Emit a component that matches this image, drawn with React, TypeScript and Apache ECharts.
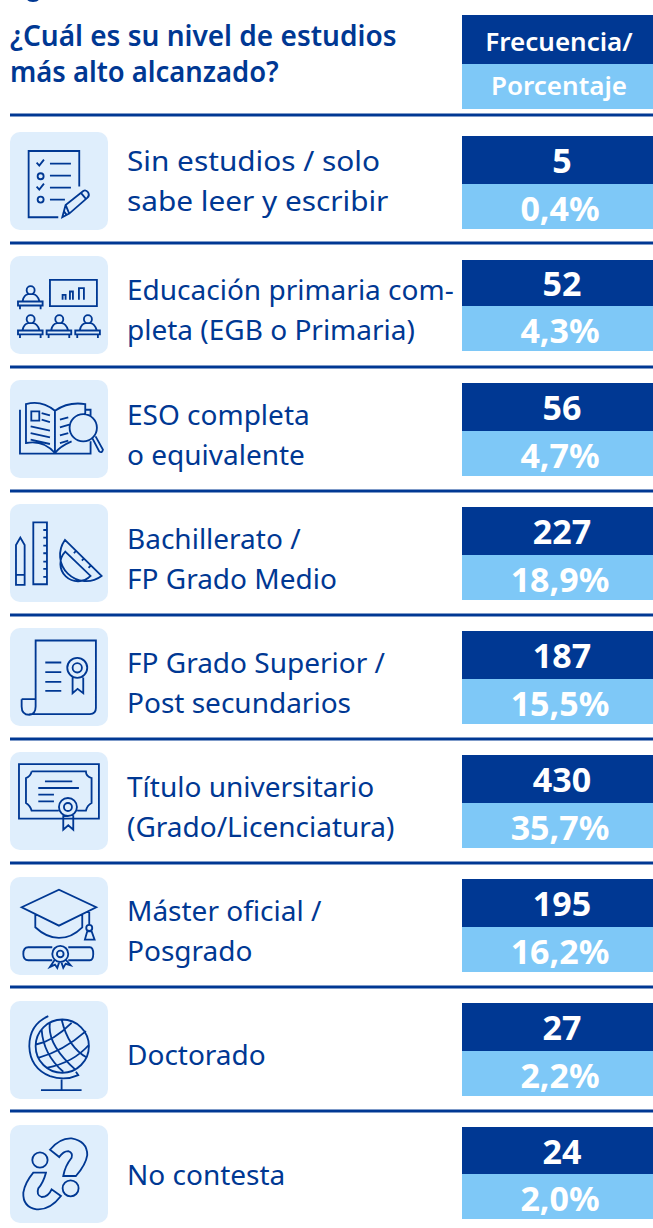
import React, { useEffect, useRef } from "react";
import * as echarts from "echarts";

const title = ["¿Cuál es su nivel de estudios", "más alto alcanzado?"];
const headerTop = "Frecuencia/";
const headerBottom = "Porcentaje";
const labels: string[][] = [
  ["Sin estudios / solo", "sabe leer y escribir"],
  ["Educación primaria com-", "pleta (EGB o Primaria)"],
  ["ESO completa", "o equivalente"],
  ["Bachillerato /", "FP Grado Medio"],
  ["FP Grado Superior /", "Post secundarios"],
  ["Título universitario", "(Grado/Licenciatura)"],
  ["Máster oficial /", "Posgrado"],
  ["Doctorado"],
  ["No contesta"],
];
const frequencies = ["5", "52", "56", "227", "187", "430", "195", "27", "24"];
const percentages = ["0,4%", "4,3%", "4,7%", "18,9%", "15,5%", "35,7%", "16,2%", "2,2%", "2,0%"];

// layout
const DARK = "#003893";
const LIGHT = "#7EC8F7";
const PALE = "#DFEEFC";
const FONT = "'Noto Sans'";
const ruleY = [115, 243, 367, 491, 615, 739, 863, 987, 1111];
const cellTop = [136, 260, 383, 507, 631, 755, 879, 1003, 1127];
const cellMid = [184, 306, 431, 555, 679, 803, 927, 1051, 1174];
const cellBottom = [229, 351, 476, 600, 724, 848, 972, 1096, 1219];
const boxTop = [132, 256, 380, 504, 628, 752, 877, 1001, 1125];
const lineY = [
  [160, 200], [289, 329], [414, 454], [538, 578], [662, 702],
  [786, 826], [910, 950], [1054], [1174],
];
const lineStretch = [1.063, 1, 1, 1, 1, 1, 1, 1, 1];
const titleStretch = [1, 0.978];
const iconOriginY = [125, 125, 125, 495, 495, 495, 868, 868, 868];

const c = (x: number, y: number, r: number) =>
  `M${x - r},${y}a${r},${r} 0 1,0 ${2 * r},0a${r},${r} 0 1,0 ${-2 * r},0`;
const person = (dx: number, dy: number) =>
  c(92 + dx, 496 + dy, 12) +
  `M${68 + dx},${528 + dy}Q${72 + dx},${510 + dy} ${85 + dx},${508 + dy}H${100 + dx}Q${112 + dx},${510 + dy} ${118 + dx},${528 + dy}` +
  `M${54 + dx},${530 + dy}H${128 + dx}V${542 + dy}H${54 + dx}Z` +
  `M${60 + dx},${542 + dy}V${553 + dy}M${122 + dx},${542 + dy}V${553 + dy}`;

const iconPaths = [
  "M238,185V78H86V277H175M110,113L118,122L132,104M150,116H213" + c(122, 154, 9) + "M150,152H213M110,185L118,194L132,176M150,188H213" + c(122, 224, 9) +
    "M150,224H195M187,277L197,240L250,198Q258,193 265,203Q270,212 262,219L208,266ZM197,240L208,266M243,204L258,222M191,258L200,270",
  "M150,465H291V544H150ZM188,525V510H197V525M210,525V500H219V525M237,525V490H252V525" + person(0, 0) + person(0, 87) + person(86, 87) + person(172, 87),
  "M78,850V838Q125,825 165,858Q205,830 256,838V868M78,838V955Q130,945 165,985Q180,965 215,950M60,855V987H272V950M165,858V985M256,855H272V874" +
    c(250, 909, 41) + "M278,942L298,980Q306,987 309,975L287,935" +
    "M94,860H118V888H94ZM125,865L150,872M125,885L150,892M92,905L150,918M92,925L150,938M92,945L150,958M180,885L205,878M180,908L208,900M180,932L205,925M180,955L205,948",
  "M48,270V150L61,128L74,150V270ZM48,240H74M100,82H141V268H100ZM130,105H141M130,128H141M130,152H141M130,175H141M130,200H141M130,222H141M130,246H141" +
    "M195,135A78,78 0 0,0 305,243ZM196,170L272,243A52,52 0 0,1 196,170ZM228,168L222,175M252,190L246,197M272,212L266,219",
  "M107,613V437H288V640Q288,658 270,658H88M65,613H107M65,613V635Q65,660 88,660Q107,658 107,635V613M136,503H184M136,532H184M136,561H184M136,588H184" +
    c(232, 519, 30) + c(232, 519, 14) + "M218,548V595L233,582L250,595V548",
  "M57,808H297V972H57ZM95,830H258Q258,845 275,850V925Q262,932 258,948H232M176,948H95Q92,935 78,925V850Q92,845 95,830M135,860H217M115,880H237M115,900H162M115,920H162" +
    c(204, 937, 27) + c(204, 937, 12) + "M190,962V1005L205,992L220,1005V962",
  "M65,118L177,65L289,118L177,173ZM106,140V178Q140,210 177,210Q215,210 247,178V140M268,128V170" + c(268, 180, 9) + "M262,190L255,215H284L275,190Z" +
    "M157,277H85Q70,277 70,258Q70,238 85,238H157M205,238H270Q280,238 280,258Q280,277 270,277H205" + c(181, 258, 24) + c(181, 258, 10) +
    "M165,275L150,297L165,290L172,300L178,282M197,275L212,292L197,288L190,300L184,282",
  c(187, 535, 80) + "M108,530Q160,520 215,465M115,570Q190,550 258,490M140,600Q220,585 268,530M150,465Q140,530 228,607M125,485Q130,560 190,612M185,455Q205,540 262,570" +
    "M145,445Q88,470 88,535Q90,600 150,625Q195,640 235,622L228,612M185,635V667M123,667H245",
  "M150,846Q180,810 215,812Q262,820 262,862Q258,890 228,925H190Q195,895 215,870Q220,855 205,850Q190,850 178,868Z" + c(212, 962, 24) + c(120, 877, 23) +
    "M100,915H138Q130,945 115,962Q108,982 125,988Q145,988 155,965L183,985Q150,1028 110,1025Q68,1018 70,975Q75,945 100,915Z",
];

iconPaths.forEach((d, i) => {
  echarts.graphic.registerShape("icon" + i, echarts.graphic.extendPath(d, {}) as any);
});

const txt = (
  text: string, x: number, y: number, size: number, weight: number | string,
  fill: string, align: string = "left", scaleX: number = 1
) => ({
  type: "text", x, y, scaleX, silent: true,
  style: { text, fill, align, verticalAlign: "middle", font: `${weight} ${size}px ${FONT}` },
});

function buildGraphic() {
  const els: any[] = [];
  els.push({ type: "ellipse", shape: { cx: 33, cy: -1, rx: 6, ry: 3 }, style: { fill: DARK } });
  title.forEach((t, i) => els.push(txt(t, 10, 35 + i * 36, 28, 600, DARK, "left", titleStretch[i])));
  els.push({ type: "rect", shape: { x: 462, y: 15, width: 191, height: 49 }, style: { fill: DARK } });
  els.push({ type: "rect", shape: { x: 462, y: 64, width: 191, height: 45 }, style: { fill: LIGHT } });
  els.push(txt(headerTop, 559, 41, 26, 600, "#fff", "center"));
  els.push(txt(headerBottom, 559, 85, 26, 600, "#fff", "center"));
  ruleY.forEach((y) =>
    els.push({ type: "rect", shape: { x: 10, y: y - 1.5, width: 643, height: 3 }, style: { fill: DARK } })
  );
  labels.forEach((lines, i) => {
    els.push({
      type: "rect",
      shape: { x: 10, y: boxTop[i], width: 98, height: 98, r: 10 },
      style: { fill: PALE },
    });
    els.push({
      type: "icon" + i, x: 0, y: iconOriginY[i], scaleX: 1 / 3, scaleY: 1 / 3,
      style: { fill: "none", stroke: DARK, lineWidth: 5.5 },
    });
    lines.forEach((l, j) => els.push(txt(l, 127, lineY[i][j], 28, 400, DARK, "left", lineStretch[i])));
    els.push({ type: "rect", shape: { x: 462, y: cellTop[i], width: 191, height: cellMid[i] - cellTop[i] }, style: { fill: DARK } });
    els.push({ type: "rect", shape: { x: 462, y: cellMid[i], width: 191, height: cellBottom[i] - cellMid[i] }, style: { fill: LIGHT } });
    els.push(txt(frequencies[i], 562, (cellTop[i] + cellMid[i]) / 2, 34, 700, "#fff", "center"));
    els.push(txt(percentages[i], 560, (cellMid[i] + cellBottom[i]) / 2 + 1, 34, 700, "#fff", "center"));
  });
  return els;
}

export default function App() {
  const ref = useRef<HTMLDivElement>(null);
  useEffect(() => {
    document.body.style.margin = "0";
    const chart = echarts.init(ref.current!, undefined, { renderer: "svg" });
    chart.setOption({ animation: false, backgroundColor: "#fff", graphic: { elements: buildGraphic() } });
    return () => chart.dispose();
  }, []);
  return <div ref={ref} style={{ width: 653, height: 1228 }} />;
}
